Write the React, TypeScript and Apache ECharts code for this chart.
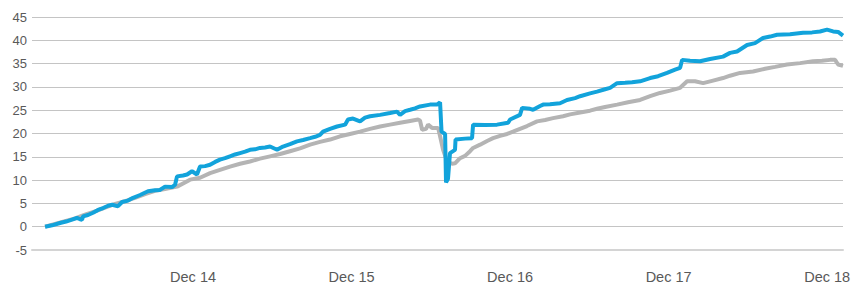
import React, { useEffect, useRef } from "react";
import * as echarts from "echarts";

// x values: months since Dec 2013 (12 = Dec 14, 24 = Dec 15, ...)
const blueMonths = [0.80, 1.33, 1.93, 2.39, 2.84, 3.22, 3.45, 3.60, 3.67, 4.05, 4.43, 4.81, 5.19, 5.57, 5.87, 6.32, 6.63, 7.08, 7.46, 7.99, 8.59, 9.12, 9.50, 9.88, 10.41, 10.64, 10.79, 11.24, 11.55, 11.92, 12.30, 12.53, 12.91, 13.29, 13.67, 14.04, 14.42, 14.80, 15.18, 15.56, 15.94, 16.31, 16.69, 17.07, 17.45, 17.83, 18.36, 18.81, 19.34, 19.87, 20.33, 20.86, 21.24, 21.61, 21.84, 22.37, 22.90, 23.51, 23.73, 24.11, 24.64, 25.02, 25.40, 26.16, 26.91, 27.44, 27.67, 28.05, 28.43, 28.80, 29.18, 29.94, 30.47, 30.70, 30.81, 31.08, 31.15, 31.30, 31.45, 31.83, 31.87, 32.59, 33.12, 33.20, 34.10, 35.01, 35.62, 35.85, 36.00, 36.75, 36.91, 37.51, 37.74, 38.27, 38.50, 39.02, 39.78, 40.31, 40.92, 41.30, 42.05, 42.58, 43.19, 43.57, 44.10, 44.70, 45.23, 45.84, 46.60, 47.20, 47.88, 48.49, 48.87, 49.02, 49.62, 50.38, 51.14, 52.12, 52.65, 53.18, 53.94, 54.54, 55.15, 55.68, 56.21, 57.19, 58.18, 58.86, 59.46, 59.99, 60.45, 60.83, 61.20];
const blueValues = [0, 0.3, 0.8, 1.1, 1.5, 1.9, 1.6, 1.5, 2.2, 2.5, 3.0, 3.6, 4.0, 4.5, 4.7, 4.4, 5.3, 5.6, 6.2, 6.8, 7.6, 7.8, 7.9, 8.6, 8.5, 9.0, 10.8, 11.0, 11.2, 11.9, 11.2, 12.9, 13.0, 13.3, 13.9, 14.4, 14.7, 15.1, 15.5, 15.8, 16.1, 16.5, 16.6, 16.9, 17.0, 17.2, 16.5, 17.2, 17.7, 18.3, 18.6, 19.0, 19.3, 19.7, 20.4, 21.0, 21.5, 21.9, 23.0, 23.2, 22.6, 23.4, 23.7, 24.0, 24.4, 24.7, 24.0, 24.8, 25.1, 25.4, 25.8, 26.2, 26.2, 26.7, 20.4, 19.9, 9.5, 10.3, 15.8, 16.5, 18.7, 18.9, 19.0, 21.9, 21.8, 21.9, 22.2, 22.3, 23.0, 24.0, 25.5, 25.3, 25.1, 25.9, 26.2, 26.3, 26.5, 27.2, 27.6, 28.0, 28.6, 29.0, 29.5, 29.8, 30.8, 30.9, 31.0, 31.2, 31.9, 32.3, 33.0, 33.7, 34.1, 35.8, 35.6, 35.5, 36.0, 36.5, 37.3, 37.6, 39.0, 39.4, 40.5, 40.8, 41.2, 41.3, 41.6, 41.7, 41.9, 42.3, 41.9, 41.8, 41.0];

const grayMonths = [0.80, 1.55, 2.31, 3.07, 3.82, 4.58, 5.34, 6.10, 6.85, 7.61, 8.37, 9.12, 9.88, 10.41, 10.79, 11.39, 11.77, 12.53, 13.29, 14.04, 14.80, 15.56, 16.31, 17.07, 17.83, 18.59, 19.34, 20.10, 20.86, 21.61, 22.37, 23.13, 23.88, 24.64, 25.40, 26.16, 26.91, 27.67, 28.43, 29.03, 29.18, 29.34, 29.64, 29.79, 30.09, 30.55, 30.70, 30.93, 31.23, 31.61, 31.83, 32.21, 32.59, 32.97, 33.20, 33.73, 34.26, 34.71, 35.24, 35.77, 36.22, 36.75, 37.28, 38.04, 38.65, 39.25, 40.01, 40.54, 41.30, 42.05, 42.58, 43.19, 44.10, 44.93, 45.84, 46.60, 47.35, 48.11, 48.87, 49.40, 50.00, 50.61, 51.29, 52.12, 52.65, 53.41, 54.39, 55.30, 56.06, 56.96, 57.95, 58.93, 59.61, 60.22, 60.60, 60.83, 61.20];
const grayValues = [0, 0.6, 1.2, 1.8, 2.6, 3.3, 4.1, 4.9, 5.5, 6.2, 7.0, 7.7, 8.1, 8.4, 8.6, 9.5, 10.1, 10.5, 11.5, 12.2, 12.9, 13.5, 14.0, 14.6, 15.1, 15.6, 16.2, 16.8, 17.6, 18.2, 18.7, 19.4, 19.9, 20.4, 21.0, 21.5, 21.9, 22.3, 22.7, 23.0, 22.8, 20.8, 21.0, 21.9, 21.2, 21.2, 19.4, 16.5, 14.0, 13.5, 13.6, 14.7, 15.2, 16.2, 16.9, 17.6, 18.4, 19.0, 19.5, 19.9, 20.4, 21.0, 21.6, 22.6, 22.9, 23.3, 23.7, 24.1, 24.5, 24.9, 25.3, 25.7, 26.2, 26.7, 27.2, 28.0, 28.7, 29.2, 29.8, 31.2, 31.2, 30.8, 31.3, 31.9, 32.4, 33.0, 33.3, 33.9, 34.3, 34.8, 35.1, 35.5, 35.6, 35.8, 35.8, 34.8, 34.5];

const xTickMonths = [12, 24, 36, 48, 60];
const xTickLabels = ["Dec 14", "Dec 15", "Dec 16", "Dec 17", "Dec 18"];

export default function App() {
  const ref = useRef<HTMLDivElement>(null);
  useEffect(() => {
    if (!ref.current) return;
    const chart = echarts.init(ref.current, undefined, { renderer: "svg" });
    const font = "'Liberation Sans', Arial, Helvetica, sans-serif";
    chart.setOption({
      animation: false,
      grid: { left: 32, right: 13, top: 17, bottom: 36, containLabel: false },
      xAxis: {
        type: "value",
        min: -0.19,
        max: 61.2,
        splitLine: { show: false },
        axisTick: { show: false },
        axisLine: { show: true, onZero: false, lineStyle: { color: "#d4d4d4", width: 2 } },
        axisLabel: {
          customValues: xTickMonths,
          formatter: (v: number) => {
            const i = xTickMonths.indexOf(Math.round(v));
            return i >= 0 ? xTickLabels[i] : "";
          },
          color: "#595959",
          fontSize: 14.5,
          fontFamily: font,
          margin: 19,
        },
      },
      yAxis: {
        type: "value",
        min: -5,
        max: 45,
        interval: 5,
        axisLine: { show: false },
        axisTick: { show: false },
        splitLine: { show: true, lineStyle: { color: "#c4c4c4", width: 1 } },
        axisLabel: { color: "#595959", fontSize: 13, fontFamily: font, margin: 5 },
      },
      series: [
        {
          type: "line",
          data: grayMonths.map((m, i) => [m, grayValues[i]]),
          showSymbol: false,
          symbol: "none",
          lineStyle: { color: "#b4b4b4", width: 4 },
          z: 2,
        },
        {
          type: "line",
          data: blueMonths.map((m, i) => [m, blueValues[i]]),
          showSymbol: false,
          symbol: "none",
          lineStyle: { color: "#12a3db", width: 4 },
          z: 3,
        },
      ],
    });
    return () => chart.dispose();
  }, []);
  return (
    <div
      ref={ref}
      style={{ position: "fixed", left: 0, top: 0, width: 856, height: 286, background: "#fff" }}
    />
  );
}
